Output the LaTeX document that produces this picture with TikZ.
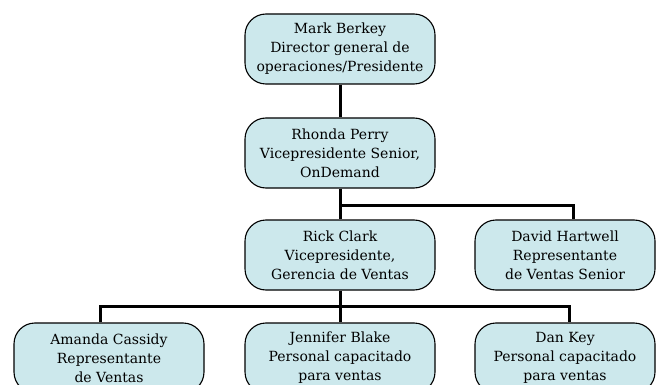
\documentclass[tikz,border=0pt]{standalone}
\usepackage{fontspec}
\setmainfont{DejaVu Serif}
\definecolor{boxfill}{RGB}{204,232,236}

\begin{document}
\begin{tikzpicture}[x=1pt,y=-1pt]
    \tikzstyle{every node}=[font=\fontsize{14}{19}\selectfont]
    \tikzstyle{person}=[draw,fill=boxfill,line width=1.1pt,rounded corners=21pt,
    align=center,minimum width=190pt,minimum height=70pt,inner sep=0pt]
    \tikzstyle{link}=[line width=3pt]
    \useasboundingbox (0,0) rectangle (656,385);
    \clip (0,0) rectangle (656,385);

    \node[person] (berkey) at (340,49) {Mark Berkey\\Director general de\\
    operaciones/Presidente};

    \node[person] (perry) at (340,153) {Rhonda Perry\\Vicepresidente Senior,\\
    OnDemand};

    \node[person] (clark) at (340,255) {Rick Clark\\Vicepresidente,\\Gerencia
    de Ventas};

    \node[person,minimum width=180pt] (hartwell) at (565,255) {David
    Hartwell\\Representante\\de Ventas Senior};

    \node[person] (cassidy) at (109,358) {Amanda Cassidy\\Representante\\de
    Ventas};

    \node[person] (blake) at (340,358) {Jennifer Blake\\Personal capacitado\\
    para ventas};

    \node[person,minimum width=180pt] (key) at (565,358) {Dan Key\\Personal
    capacitado\\para ventas};

    \coordinate (split1) at (340,205);
    \coordinate (split2) at (340,306);

    \draw[link] (berkey) -- (perry);
    \draw[link] (perry) -- (clark);
    \draw[link] (split1) -| ([xshift=8pt]hartwell.north);
    \draw[link] (clark) -- (blake);
    \draw[link] ([xshift=-9pt]cassidy.north) |- (split2) -| ([xshift=4pt]key.north);

\end{tikzpicture}
\end{document}
